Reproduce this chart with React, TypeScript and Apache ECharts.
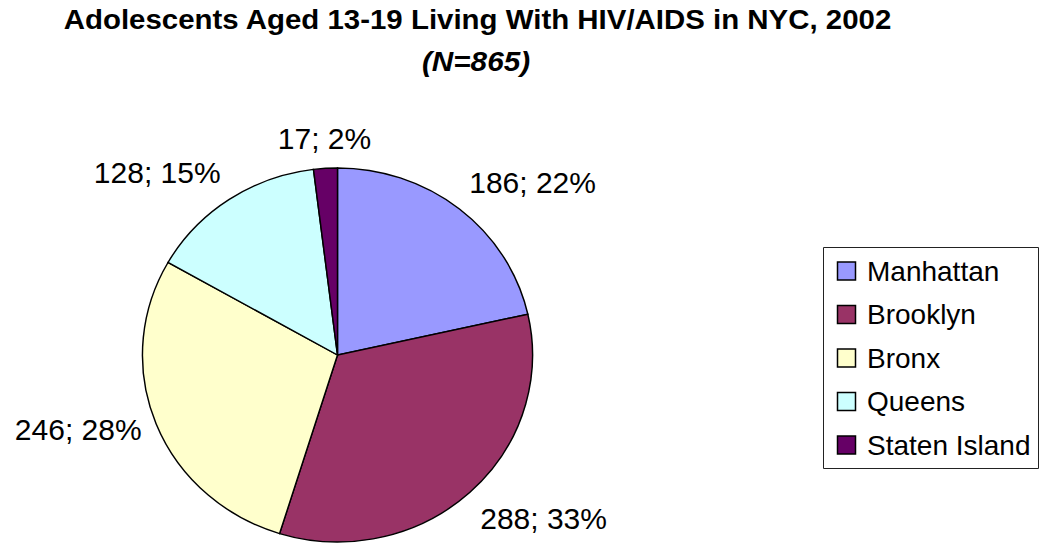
import React, { useEffect, useRef } from "react";
import * as echarts from "echarts";

const categories = ["Manhattan", "Brooklyn", "Bronx", "Queens", "Staten Island"];
const values = [186, 288, 246, 128, 17];
const colors = ["#9999FF", "#993366", "#FFFFCC", "#CCFFFF", "#660066"];
const titleText = "Adolescents Aged 13-19 Living With HIV/AIDS in NYC, 2002";
const subtitleText = "(N=865)";

const FONT = '"Liberation Sans", Arial, sans-serif';

export default function App() {
  const ref = useRef<HTMLDivElement>(null);
  useEffect(() => {
    document.body.style.margin = "0";
    const chart = echarts.init(ref.current!, null, { renderer: "svg" });
    const total = values.reduce((a, b) => a + b, 0);
    const cum: number[] = [];
    let acc = 0;
    values.forEach((v) => {
      cum.push(acc);
      acc += v;
    });
    const cx = 337.5;
    const cy = 355;
    const rx = 195;
    const ry = 187;

    const graphics: any[] = [];
    graphics.push({
      type: "text",
      x: 477.5,
      y: 19,
      scaleX: 1.09,
      style: {
        text: titleText,
        fill: "#000",
        font: `bold 27px ${FONT}`,
        align: "center",
        verticalAlign: "middle",
      },
    });
    graphics.push({
      type: "text",
      x: 476,
      y: 61,
      scaleX: 1.1,
      style: {
        text: subtitleText,
        fill: "#000",
        font: `italic bold 27px ${FONT}`,
        align: "center",
        verticalAlign: "middle",
      },
    });
    graphics.push({
      type: "rect",
      shape: { x: 823.5, y: 247.5, width: 215, height: 221 },
      style: { fill: "#fff", stroke: "#222", lineWidth: 1 },
    });
    categories.forEach((c, i) => {
      const y = 271 + i * 43.5;
      graphics.push({
        type: "rect",
        shape: { x: 837.5, y: y - 9, width: 18, height: 18 },
        style: { fill: colors[i], stroke: "#000", lineWidth: 1.5 },
      });
      graphics.push({
        type: "text",
        x: 867,
        y: y,
        style: {
          text: c,
          fill: "#000",
          font: `28px ${FONT}`,
          verticalAlign: "middle",
          align: "left",
        },
      });
    });

    chart.setOption({
      animation: false,
      graphic: graphics,
      series: [
        {
          type: "custom",
          coordinateSystem: "none",
          data: values.map((v, i) => ({ value: v, name: categories[i] })),
          renderItem: (params: any, api: any) => {
            const i = params.dataIndex;
            const v = api.value(0);
            const a0 = (cum[i] / total) * Math.PI * 2;
            const a1 = ((cum[i] + v) / total) * Math.PI * 2;
            const mid = (a0 + a1) / 2;
            const s = Math.sin(mid);
            const c = Math.cos(mid);
            const lx = cx + rx * 1.08 * s;
            const ly = cy - ry * 1.08 * c;
            const align = s > 0.3 ? "left" : s < -0.3 ? "right" : "center";
            const vAlign = c > 0.5 ? "bottom" : c < -0.5 ? "top" : "middle";
            const pct = Math.round((v / total) * 100);
            return {
              type: "group",
              children: [
                {
                  type: "group",
                  x: cx,
                  y: cy,
                  scaleX: rx / ry,
                  children: [
                    {
                      type: "sector",
                      shape: {
                        cx: 0,
                        cy: 0,
                        r0: 0,
                        r: ry,
                        startAngle: a0 - Math.PI / 2,
                        endAngle: a1 - Math.PI / 2,
                        clockwise: true,
                      },
                      style: { fill: colors[i], stroke: "#000", lineWidth: 1.4 },
                    },
                  ],
                },
                {
                  type: "text",
                  x: lx,
                  y: ly,
                  style: {
                    text: `${v}; ${pct}%`,
                    fill: "#000",
                    font: `30px ${FONT}`,
                    align,
                    verticalAlign: vAlign,
                  },
                },
              ],
            };
          },
        },
      ],
    });
    return () => chart.dispose();
  }, []);
  return (
    <div
      ref={ref}
      style={{ width: 1048, height: 544, position: "absolute", left: 0, top: 0, background: "#fff" }}
    />
  );
}
